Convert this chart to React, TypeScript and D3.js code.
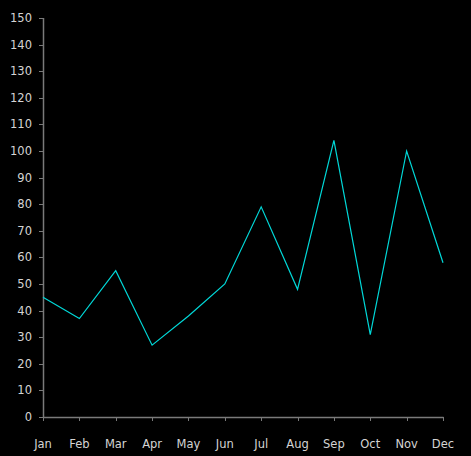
import React from "react";
import * as d3 from "d3";

const months = ["Jan", "Feb", "Mar", "Apr", "May", "Jun", "Jul", "Aug", "Sep", "Oct", "Nov", "Dec"];
const values = [45, 37, 55, 27, 38, 50, 79, 48, 104, 31, 100, 58];
const yTicks = [0, 10, 20, 30, 40, 50, 60, 70, 80, 90, 100, 110, 120, 130, 140, 150];

export default function App() {
  const W = 471, H = 456;
  const left = 43, right = 443, top = 18, bottom = 417;
  const x = d3.scalePoint<string>().domain(months).range([left, right]);
  const y = d3.scaleLinear().domain([0, 150]).range([bottom, top]);
  const line = d3.line<number>().x((_, i) => x(months[i]) as number).y((d) => y(d));
  const axisColor = "#7a7a7a";
  const textColor = "#d4d4d4";
  return (
    <svg width={W} height={H} style={{ position: "absolute", left: 0, top: 0, background: "#000" }}
      fontFamily="DejaVu Sans" fontSize={11.5}>
      <rect x={0} y={0} width={W} height={H} fill="#000" />
      <line x1={left + 0.5} x2={left + 0.5} y1={top} y2={bottom + 0.5} stroke={axisColor} strokeWidth={1.5} />
      <line x1={left} x2={right + 0.5} y1={bottom + 0.5} y2={bottom + 0.5} stroke={axisColor} strokeWidth={1.5} />
      {yTicks.map((t) => (
        <g key={t}>
          <line x1={left - 4} x2={left} y1={Math.round(y(t)) + 0.5} y2={Math.round(y(t)) + 0.5} stroke={axisColor} />
          <text x={32} y={y(t)} dy="0.35em" textAnchor="end" fill={textColor}>{t}</text>
        </g>
      ))}
      {months.map((m) => (
        <g key={m}>
          <line x1={Math.round(x(m) as number) + 0.5} x2={Math.round(x(m) as number) + 0.5} y1={bottom} y2={bottom + 4} stroke={axisColor} />
          <text x={x(m)} y={444} dy="0.35em" textAnchor="middle" fill={textColor}>{m}</text>
        </g>
      ))}
      <path d={line(values) || ""} fill="none" stroke="#00d8d8" strokeWidth={1.2} />
    </svg>
  );
}
